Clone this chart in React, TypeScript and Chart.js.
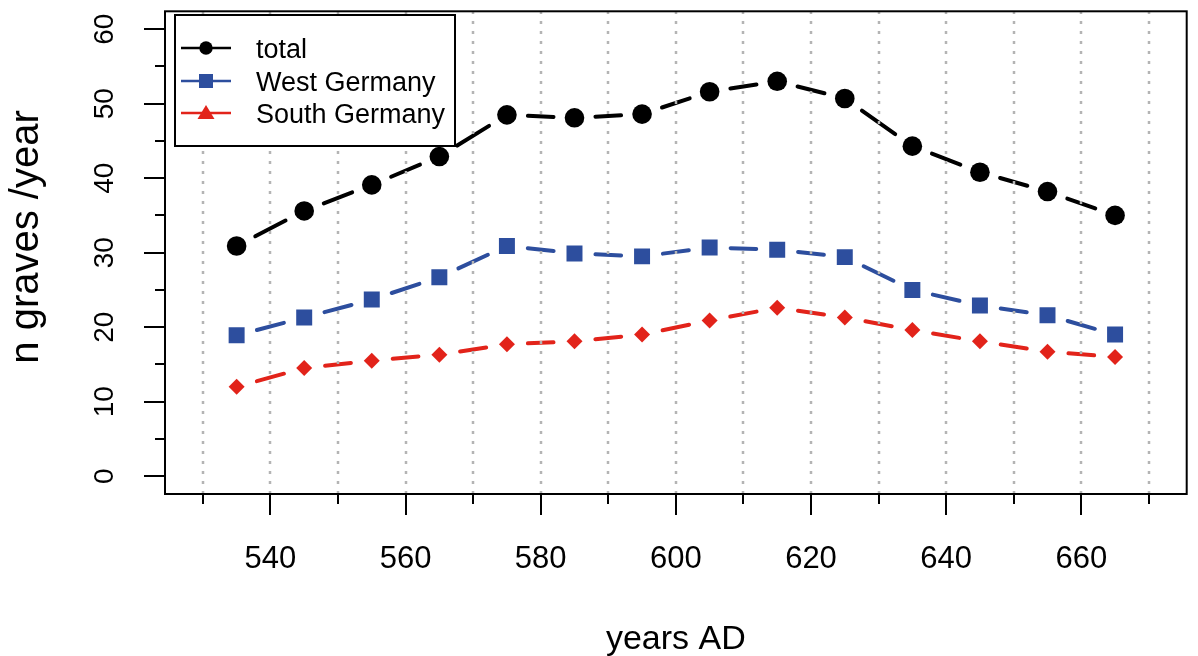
import React, { useEffect, useRef } from "react";
import { Chart, registerables } from "chart.js";

Chart.register(...registerables);

const years = [535, 545, 555, 565, 575, 585, 595, 605, 615, 625, 635, 645, 655, 665];
const totalValues = [30.9, 35.6, 39.1, 42.9, 48.5, 48.1, 48.6, 51.6, 53.0, 50.7, 44.3, 40.8, 38.2, 35.0];
const westValues = [18.9, 21.3, 23.7, 26.7, 30.9, 29.9, 29.5, 30.7, 30.4, 29.4, 25.0, 22.9, 21.6, 19.0];
const southValues = [12.0, 14.5, 15.5, 16.3, 17.7, 18.1, 19.0, 20.9, 22.6, 21.3, 19.6, 18.1, 16.7, 16.0];
const seriesNames = ["total", "West Germany", "South Germany"];
const xMajorTicks = [540, 560, 580, 600, 620, 640, 660];
const xMinorTicks = [530, 550, 570, 590, 610, 630, 650, 670];
const xGridLines = [530, 540, 550, 560, 570, 580, 590, 600, 610, 620, 630, 640, 650, 660, 670];
const yMajorTicks = [0, 10, 20, 30, 40, 50, 60];
const yMinorTicks = [5, 15, 25, 35, 45, 55];
const xTitle = "years AD";
const yTitle = "n graves /year";

const BLACK = "#000000";
const BLUE = "#2D4E9E";
const RED = "#E2231A";
const FONT = '"Liberation Sans", Arial, Helvetica, sans-serif';
const LW = 4;
const GAP = 19;

function segStyle() {
  return {
    borderDash: (ctx: any) => {
      const { p0, p1 } = ctx;
      const L = Math.hypot(p1.x - p0.x, p1.y - p0.y);
      const dash = Math.max(L - 2 * GAP - LW, 0.1);
      return [dash, L + 50 + ctx.p0DataIndex * 0.013];
    },
    borderDashOffset: () => -(GAP + LW / 2),
  };
}

const rPlot = {
  id: "rPlot",
  afterDatasetsDraw(chart: any) {
    const { ctx, chartArea } = chart;
    const xs = chart.scales.x;
    const ys = chart.scales.y;
    const { left, right, top, bottom } = chartArea;
    ctx.save();
    // grid lines (vertical, dotted grey)
    ctx.strokeStyle = "rgb(180,180,180)";
    ctx.lineWidth = 2.5;
    ctx.setLineDash([3, 7]);
    ctx.lineCap = "butt";
    for (const v of xGridLines) {
      const px = Math.round(xs.getPixelForValue(v));
      ctx.beginPath();
      ctx.moveTo(px, bottom);
      ctx.lineTo(px, top);
      ctx.stroke();
    }
    ctx.setLineDash([]);

    // box
    ctx.strokeStyle = "#000";
    ctx.lineWidth = 2;
    ctx.strokeRect(left, top, right - left, bottom - top);

    // x ticks
    ctx.lineWidth = 2;
    for (const v of xMajorTicks) {
      const px = Math.round(xs.getPixelForValue(v));
      ctx.beginPath();
      ctx.moveTo(px, bottom);
      ctx.lineTo(px, bottom + 21);
      ctx.stroke();
    }
    for (const v of xMinorTicks) {
      const px = Math.round(xs.getPixelForValue(v));
      ctx.beginPath();
      ctx.moveTo(px, bottom);
      ctx.lineTo(px, bottom + 10);
      ctx.stroke();
    }
    // y ticks
    for (const v of yMajorTicks) {
      const py = Math.round(ys.getPixelForValue(v));
      ctx.beginPath();
      ctx.moveTo(left, py);
      ctx.lineTo(left - 21, py);
      ctx.stroke();
    }
    for (const v of yMinorTicks) {
      const py = Math.round(ys.getPixelForValue(v));
      ctx.beginPath();
      ctx.moveTo(left, py);
      ctx.lineTo(left - 10, py);
      ctx.stroke();
    }

    // tick labels
    ctx.fillStyle = "#000";
    ctx.font = `31px ${FONT}`;
    ctx.textAlign = "center";
    ctx.textBaseline = "alphabetic";
    for (const v of xMajorTicks) {
      ctx.fillText(String(v), xs.getPixelForValue(v), 568);
    }
    ctx.font = `28px ${FONT}`;
    for (const v of yMajorTicks) {
      ctx.save();
      ctx.translate(113, ys.getPixelForValue(v));
      ctx.rotate(-Math.PI / 2);
      ctx.fillText(String(v), 0, 0);
      ctx.restore();
    }

    // axis titles
    ctx.font = `34px ${FONT}`;
    ctx.fillText(xTitle, (left + right) / 2, 649);
    ctx.save();
    ctx.font = `40px ${FONT}`;
    ctx.translate(38, 237);
    ctx.rotate(-Math.PI / 2);
    ctx.fillText(yTitle, 0, 0);
    ctx.restore();

    // legend
    const lx = 175, ly = 15, lw = 280, lh = 131;
    ctx.fillStyle = "#fff";
    ctx.fillRect(lx, ly, lw, lh);
    ctx.strokeStyle = "#000";
    ctx.lineWidth = 2;
    ctx.strokeRect(lx, ly, lw, lh);
    const rows = [48, 81, 113];
    const cols = [BLACK, BLUE, RED];
    for (let i = 0; i < 3; i++) {
      const y = rows[i];
      ctx.strokeStyle = cols[i];
      ctx.fillStyle = cols[i];
      ctx.lineWidth = 2.5;
      ctx.beginPath();
      ctx.moveTo(181, y);
      ctx.lineTo(231, y);
      ctx.stroke();
      const cx = 206;
      ctx.beginPath();
      if (i === 0) {
        ctx.arc(cx, y, 6.7, 0, Math.PI * 2);
      } else if (i === 1) {
        ctx.rect(cx - 7, y - 7, 14, 14);
      } else {
        ctx.moveTo(cx, y - 8);
        ctx.lineTo(cx + 8.5, y + 6);
        ctx.lineTo(cx - 8.5, y + 6);
        ctx.closePath();
      }
      ctx.fill();
      ctx.fillStyle = "#000";
      ctx.font = `27px ${FONT}`;
      ctx.textAlign = "left";
      ctx.fillText(seriesNames[i], 256, y + 10);
    }
    ctx.restore();
  },
};

export default function App() {
  const ref = useRef<HTMLCanvasElement | null>(null);
  useEffect(() => {
    if (!ref.current) return;
    const mk = (vals: number[]) => years.map((x, i) => ({ x, y: vals[i] }));
    const chart = new Chart(ref.current, {
      type: "line",
      data: {
        datasets: [
          {
            label: seriesNames[0],
            data: mk(totalValues),
            borderColor: BLACK,
            backgroundColor: BLACK,
            borderWidth: LW,
            borderCapStyle: "round",
            pointStyle: "circle",
            pointRadius: 9.8,
            pointBackgroundColor: BLACK,
            pointBorderWidth: 0,
            tension: 0,
            segment: segStyle(),
          },
          {
            label: seriesNames[1],
            data: mk(westValues),
            borderColor: BLUE,
            backgroundColor: BLUE,
            borderWidth: LW,
            borderCapStyle: "round",
            pointStyle: "rect",
            pointRadius: 11.3,
            pointBackgroundColor: BLUE,
            pointBorderWidth: 0,
            tension: 0,
            segment: segStyle(),
          },
          {
            label: seriesNames[2],
            data: mk(southValues),
            borderColor: RED,
            backgroundColor: RED,
            borderWidth: LW,
            borderCapStyle: "round",
            pointStyle: "rectRot",
            pointRadius: 8,
            pointBackgroundColor: RED,
            pointBorderWidth: 0,
            tension: 0,
            segment: segStyle(),
          },
        ] as any,
      },
      options: {
        responsive: false,
        maintainAspectRatio: false,
        devicePixelRatio: 1,
        animation: false,
        layout: { padding: { left: 165, right: 1, top: 10, bottom: 162 } },
        scales: {
          x: { type: "linear", min: 524.4, max: 675.6, display: false },
          y: { type: "linear", min: -2.4, max: 62.4, display: false },
        },
        plugins: {
          legend: { display: false },
          tooltip: { enabled: false },
        },
        events: [],
      } as any,
      plugins: [rPlot],
    });
    return () => chart.destroy();
  }, []);
  return (
    <div style={{ position: "fixed", left: 0, top: 0, width: 1198, height: 656, background: "#fff" }}>
      <canvas ref={ref} width={1198} height={656} style={{ display: "block", width: 1198, height: 656 }} />
    </div>
  );
}
